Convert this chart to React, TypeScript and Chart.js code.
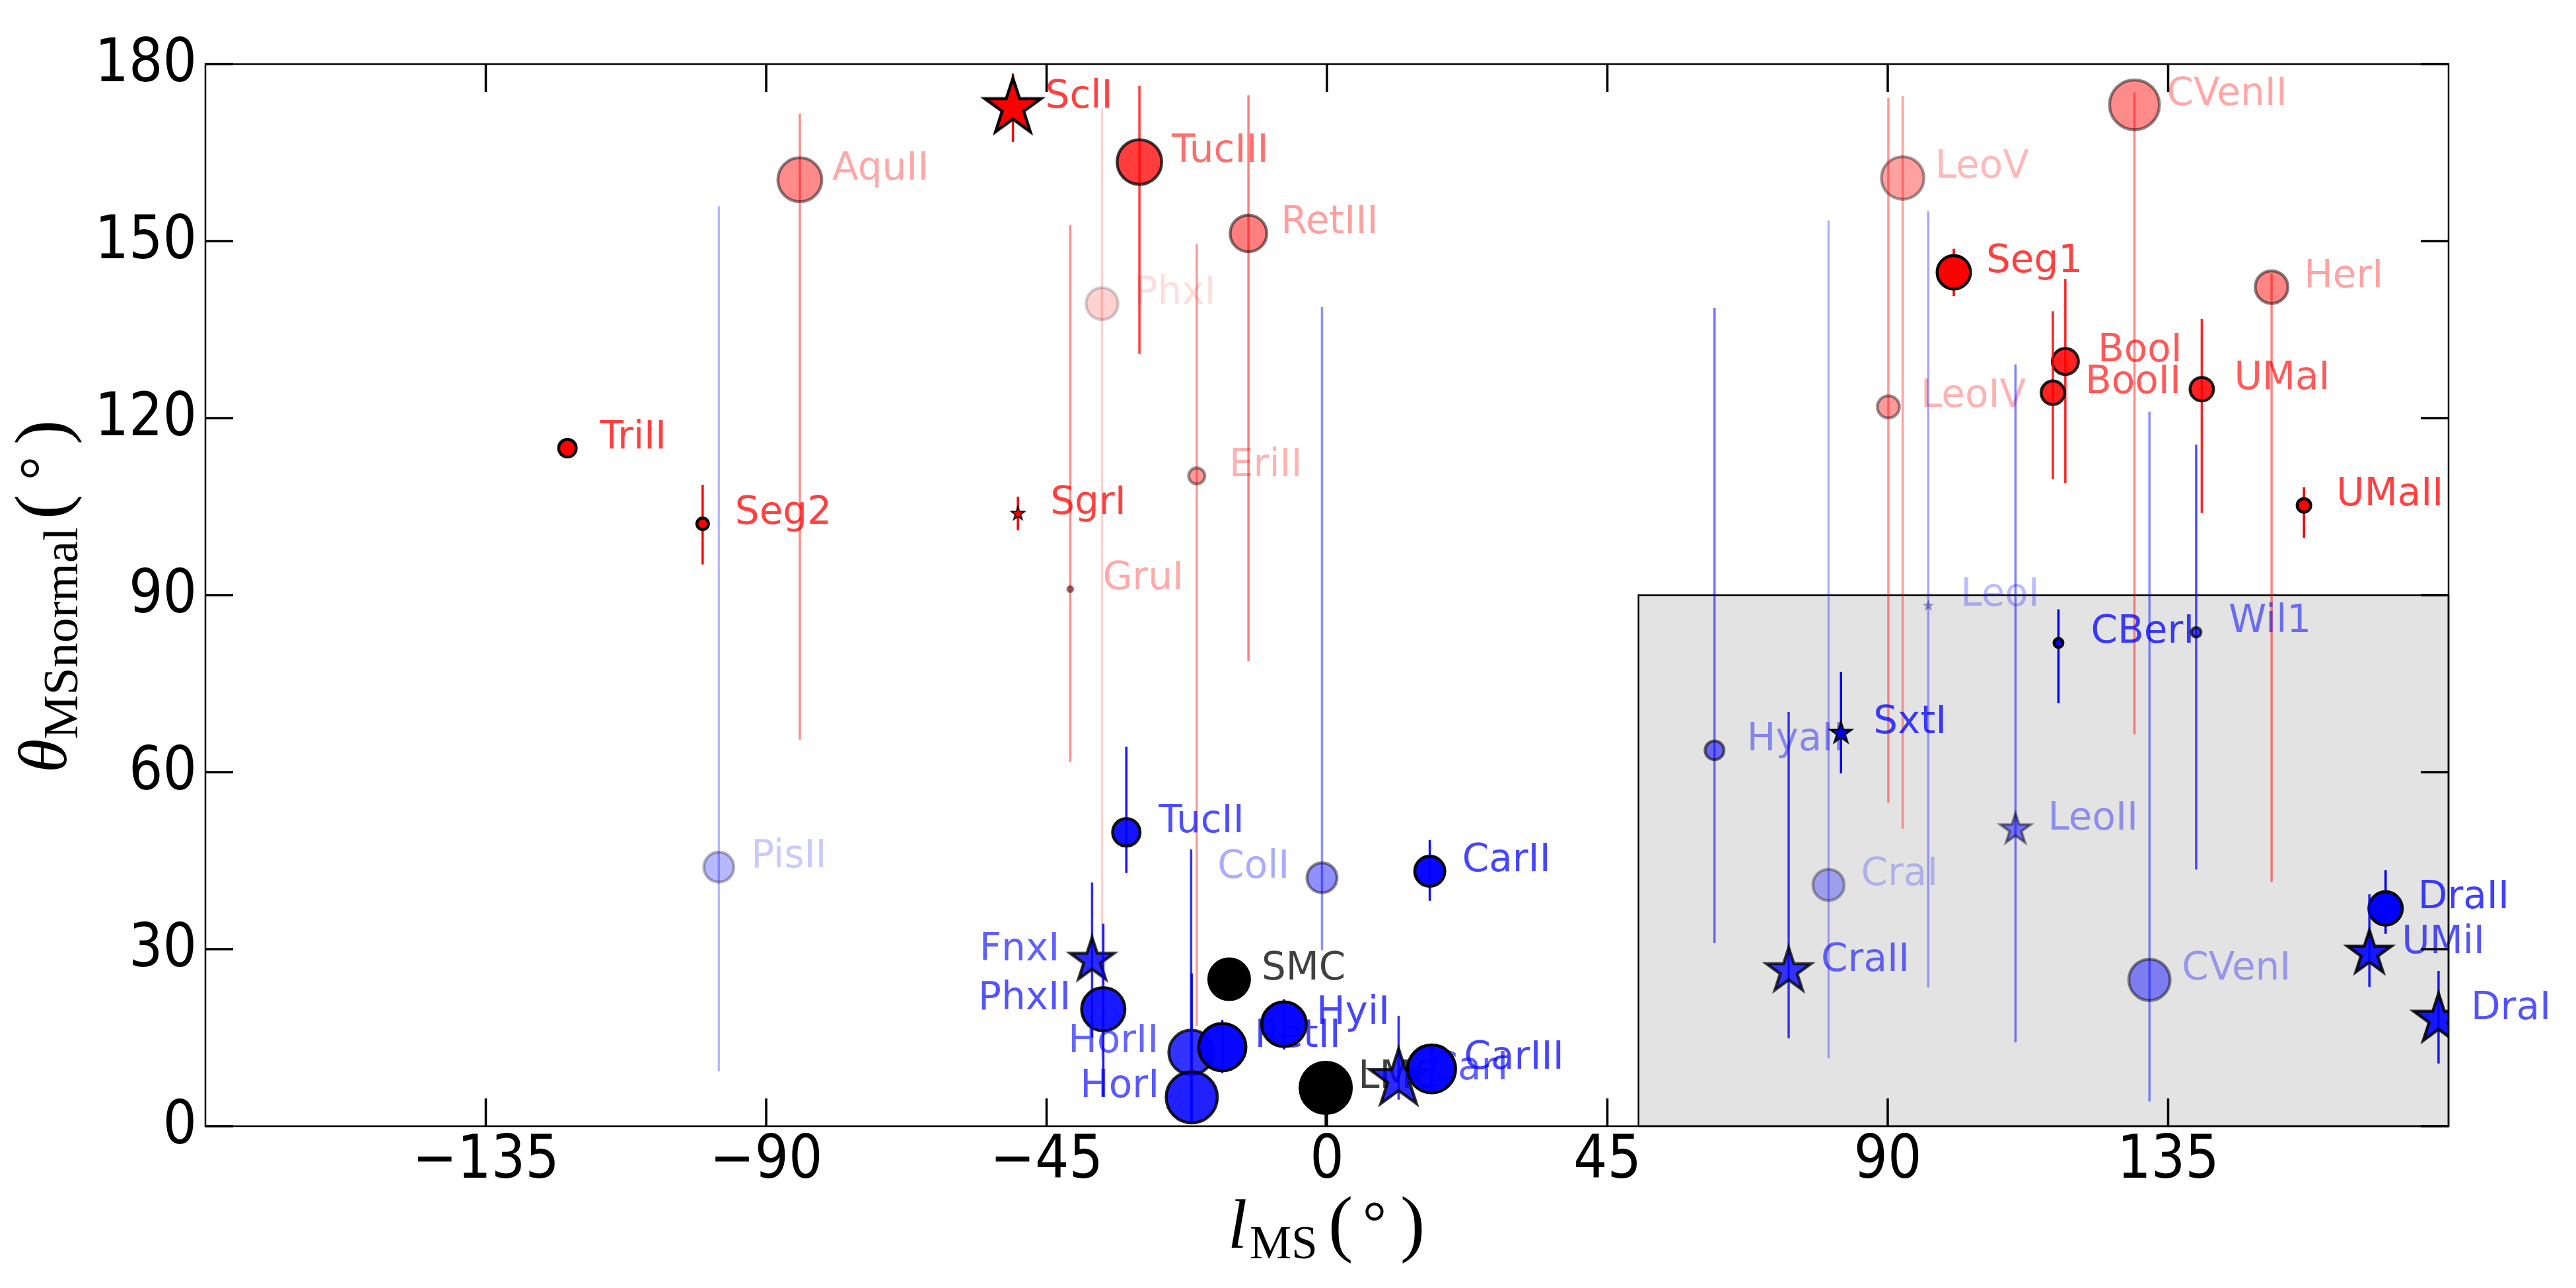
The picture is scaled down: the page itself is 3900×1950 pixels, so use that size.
import { useEffect, useRef } from 'react';
import { Chart, registerables } from 'chart.js';

Chart.register(...registerables);

// Satellites in drawing order (later entries are painted on top of earlier ones)
const GALAXIES = [
  'AquII', 'PhxI', 'GruI', 'EriII', 'RetIII', 'TucIII', 'SclI', 'TriII', 'Seg2', 'SgrI',
  'CVenII', 'LeoV', 'LeoIV', 'HerI', 'Seg1', 'BooI', 'BooII', 'UMaI', 'UMaII',
  'PisII', 'ColI', 'TucII', 'CarII', 'FnxI', 'PhxII', 'HorII', 'HorI', 'SMC', 'RetII', 'HyiI',
  'LMC', 'CarI', 'CarIII', 'HyaII', 'CraI', 'SxtI', 'CraII', 'LeoI', 'LeoII', 'CBerI', 'Wil1',
  'CVenI', 'DraII', 'UMiI', 'DraI',
];

// Magellanic Stream longitude l_MS (deg)
const L_MS = [
  -84.6, -36.1, -41.2, -20.9, -12.6, -30.1, -50.4, -121.9, -100.2, -49.6,
  129.6, 92.4, 90.1, 151.6, 100.6, 118.5, 116.5, 140.4, 156.8,
  -97.6, -0.8, -32.2, 16.5, -37.7, -35.9, -21.8, -21.7, -15.7, -16.8, -6.9,
  -0.2, 11.5, 16.8, 62.2, 80.5, 82.5, 74.1, 96.5, 110.5, 117.4, 139.5,
  132.0, 169.9, 167.3, 178.4,
];

// Angle between orbital pole and the MS normal (deg)
const THETA = [
  160.4, 139.4, 91.0, 110.2, 151.3, 163.4, 172.6, 114.9, 102.1, 103.8,
  173.1, 160.7, 121.9, 142.2, 144.7, 129.6, 124.3, 124.9, 105.2,
  43.9, 42.1, 49.8, 43.2, 28.1, 19.8, 12.5, 4.9, 24.9, 13.4, 17.3,
  6.5, 8.0, 9.7, 63.7, 40.9, 66.6, 26.3, 88.2, 50.3, 81.9, 83.7,
  24.8, 36.9, 29.3, 18.1,
];

// Lower and upper ends of the uncertainty interval on theta (deg)
const THETA_LOW = [
  65.5, 11.7, 61.7, 17.0, 78.8, 130.9, 166.8, 114.0, 95.2, 101.0,
  66.4, 50.4, 54.8, 41.4, 140.7, 109.0, 109.7, 103.9, 99.7,
  9.3, 29.8, 42.9, 38.2, 15.0, 5.0, 0.9, 0.5, 23.2, 9.0, 13.0,
  0.0, 4.5, 5.8, 31.0, 11.5, 59.8, 14.9, 23.5, 14.2, 71.7, 43.5,
  4.2, 32.6, 23.6, 10.6,
];
const THETA_HIGH = [
  171.6, 172.5, 152.7, 149.5, 174.7, 176.3, 178.4, 115.8, 108.7, 106.7,
  175.2, 174.6, 174.3, 144.5, 148.7, 143.6, 138.1, 136.8, 108.3,
  155.9, 138.8, 64.3, 48.5, 41.3, 34.3, 46.9, 25.9, 28.2, 18.0, 21.5,
  8.0, 18.7, 13.7, 138.7, 153.5, 77.0, 70.2, 155.1, 129.1, 87.6, 115.5,
  121.1, 43.4, 39.3, 26.3,
];

// r = red group, b = blue group, k = Magellanic Clouds
const GROUP = [
  'r', 'r', 'r', 'r', 'r', 'r', 'r', 'r', 'r', 'r',
  'r', 'r', 'r', 'r', 'r', 'r', 'r', 'r', 'r',
  'b', 'b', 'b', 'b', 'b', 'b', 'b', 'b', 'k', 'b', 'b',
  'k', 'b', 'b', 'b', 'b', 'b', 'b', 'b', 'b', 'b', 'b',
  'b', 'b', 'b', 'b',
];

// o = ultra-faint / other, * = classical dwarf
const MARKER = [
  'o', 'o', 'o', 'o', 'o', 'o', '*', 'o', 'o', '*',
  'o', 'o', 'o', 'o', 'o', 'o', 'o', 'o', 'o',
  'o', 'o', 'o', 'o', '*', 'o', 'o', 'o', 'o', 'o', 'o',
  'o', '*', 'o', 'o', 'o', '*', '*', '*', '*', 'o', 'o',
  'o', 'o', '*', '*',
];

// Marker extent (px)
const MARKER_SIZE = [
  71, 53, 12, 29, 60, 72, 95, 31, 22, 24,
  80, 69, 38, 54, 55, 44, 40, 40, 25,
  50, 50, 46, 50, 75, 70, 72, 82, 66, 76, 72,
  82, 97, 77, 33, 52, 37, 76, 16, 53, 18, 19,
  67, 55, 75, 84,
];

// Marker opacity
const OPACITY = [
  0.46, 0.18, 0.45, 0.4, 0.5, 0.76, 1, 1, 1, 1,
  0.46, 0.37, 0.4, 0.48, 1, 0.87, 0.87, 0.87, 1,
  0.28, 0.44, 0.92, 0.97, 0.83, 0.9, 0.8, 0.87, 1, 0.97, 0.97,
  1, 0.83, 0.97, 0.55, 0.3, 1, 0.78, 0.35, 0.5, 1, 0.7,
  0.45, 1, 0.9, 0.9,
];

// Names written to the left of their marker
const LABEL_LEFT = ['FnxI', 'PhxII', 'HorII', 'HorI', 'ColI'];

const X_TICKS = [-135, -90, -45, 0, 45, 90, 135];
const Y_TICKS = [0, 30, 60, 90, 120, 150, 180];
const X_MIN = -180;
const X_MAX = 180;
const Y_MIN = 0;
const Y_MAX = 180;

// Shaded region: l_MS > 50 and theta < 90
const SHADE_L_MIN = 50;
const SHADE_THETA_MAX = 90;

const LABEL_OFFSET = 5.2;
const EDGE = 4.5;

const rgba = (g: string, a: number) => {
  const c = g === 'r' ? [255, 0, 0] : g === 'b' ? [0, 0, 255] : [0, 0, 0];
  return `rgba(${c[0]},${c[1]},${c[2]},${a})`;
};

function starCanvas(diam: number, fill: string, edge: string, lw: number) {
  const R = diam / 2 - lw * 0.6;
  const size = Math.ceil(diam + lw * 4 + 6);
  const c = document.createElement('canvas');
  c.width = size;
  c.height = size;
  const ctx = c.getContext('2d')!;
  const cx = size / 2;
  const cy = size / 2;
  ctx.beginPath();
  for (let i = 0; i < 10; i++) {
    const r = i % 2 === 0 ? R : R * 0.381966;
    const ang = -Math.PI / 2 + (i * Math.PI) / 5;
    const px = cx + r * Math.cos(ang);
    const py = cy + r * Math.sin(ang);
    if (i === 0) ctx.moveTo(px, py);
    else ctx.lineTo(px, py);
  }
  ctx.closePath();
  ctx.fillStyle = fill;
  ctx.fill();
  ctx.lineJoin = 'miter';
  ctx.miterLimit = 10;
  ctx.lineWidth = lw;
  ctx.strokeStyle = edge;
  ctx.stroke();
  return c;
}

function drawScaledText(ctx: CanvasRenderingContext2D, text: string, x: number, y: number, sx: number) {
  ctx.save();
  ctx.translate(x, y);
  ctx.scale(sx, 1);
  ctx.fillText(text, 0, 0);
  ctx.restore();
}

const backgroundPlugin = {
  id: 'whiteBackground',
  beforeDraw(chart: any) {
    const { ctx, width, height } = chart;
    ctx.save();
    ctx.fillStyle = '#ffffff';
    ctx.fillRect(0, 0, width, height);
    ctx.restore();
  },
};

const shadePlugin = {
  id: 'shadedRegion',
  beforeDatasetsDraw(chart: any) {
    const { ctx } = chart;
    const xs = chart.scales.x;
    const ys = chart.scales.y;
    const x1 = xs.getPixelForValue(SHADE_L_MIN);
    const x2 = xs.getPixelForValue(X_MAX);
    const y1 = ys.getPixelForValue(SHADE_THETA_MAX);
    const y2 = ys.getPixelForValue(Y_MIN);
    ctx.save();
    ctx.fillStyle = '#e3e3e3';
    ctx.fillRect(x1, y1, x2 - x1, y2 - y1);
    ctx.lineWidth = 2.5;
    ctx.strokeStyle = '#000000';
    ctx.strokeRect(x1, y1, x2 - x1, y2 - y1);
    ctx.restore();
  },
};

const labelPlugin = {
  id: 'galaxyLabels',
  afterDatasetDraw(chart: any, args: any) {
    if (args.index % 2 !== 1) return;
    const k = (args.index - 1) / 2;
    const name = GALAXIES[k];
    const left = LABEL_LEFT.includes(name);
    const xs = chart.scales.x;
    const ys = chart.scales.y;
    const px = xs.getPixelForValue(L_MS[k] + (left ? -LABEL_OFFSET : LABEL_OFFSET));
    const py = ys.getPixelForValue(THETA[k]);
    const ctx = chart.ctx;
    ctx.save();
    ctx.font = '58px "DejaVu Sans"';
    ctx.fillStyle = rgba(GROUP[k], OPACITY[k] * 0.75);
    ctx.textAlign = left ? 'right' : 'left';
    ctx.textBaseline = 'alphabetic';
    ctx.fillText(name, px, py);
    ctx.restore();
  },
};

const framePlugin = {
  id: 'axesFrame',
  afterDatasetsDraw(chart: any) {
    const { ctx, chartArea } = chart;
    const { left, right, top, bottom } = chartArea;
    const xs = chart.scales.x;
    const ys = chart.scales.y;
    ctx.save();
    // spines
    ctx.strokeStyle = '#000000';
    ctx.lineWidth = 2.5;
    ctx.strokeRect(left, top, right - left, bottom - top);
    // inward ticks on all four sides
    const TL = 42;
    ctx.lineWidth = 3.5;
    ctx.beginPath();
    X_TICKS.forEach((v) => {
      const x = xs.getPixelForValue(v);
      ctx.moveTo(x, bottom);
      ctx.lineTo(x, bottom - TL);
      ctx.moveTo(x, top);
      ctx.lineTo(x, top + TL);
    });
    Y_TICKS.forEach((v) => {
      const y = ys.getPixelForValue(v);
      ctx.moveTo(left, y);
      ctx.lineTo(left + TL, y);
      ctx.moveTo(right, y);
      ctx.lineTo(right - TL, y);
    });
    ctx.stroke();

    // tick labels
    ctx.fillStyle = '#000000';
    ctx.font = '90px "DejaVu Sans"';
    ctx.textBaseline = 'alphabetic';
    X_TICKS.forEach((v) => {
      const text = v < 0 ? '\u2212' + Math.abs(v) : String(v);
      const w = ctx.measureText(text).width * 0.9;
      drawScaledText(ctx, text, xs.getPixelForValue(v) - w / 2, bottom + 78, 0.9);
    });
    Y_TICKS.forEach((v) => {
      const text = String(v);
      const w = ctx.measureText(text).width * 0.9;
      drawScaledText(ctx, text, left - 13 - w, ys.getPixelForValue(v) + 26, 0.9);
    });
    ctx.restore();
  },
  afterDraw(chart: any) {
    const { ctx, chartArea } = chart;
    const { left, right, top, bottom } = chartArea;
    const cx = (left + right) / 2;
    const cy = (top + bottom) / 2;
    ctx.save();
    ctx.fillStyle = '#000000';
    ctx.textBaseline = 'alphabetic';
    ctx.textAlign = 'left';

    // x title: l_MS(°)
    const xs0 = cx - 146;
    const xb = bottom + 184;
    ctx.font = 'italic 105px "Liberation Serif"';
    ctx.fillText('l', xs0 - 4, xb);
    ctx.font = '71px "Liberation Serif"';
    ctx.fillText('MS', xs0 + 29, xb + 16);
    ctx.font = '112px "Liberation Serif"';
    ctx.fillText('(', xs0 + 148, xb);
    ctx.font = '90px "Liberation Serif"';
    ctx.fillText('\u00b0', xs0 + 200, xb - 8);
    ctx.font = '112px "Liberation Serif"';
    ctx.fillText(')', xs0 + 257, xb);

    // y title: theta_MSnormal(°), rotated
    ctx.translate(100, cy + 267);
    ctx.rotate(-Math.PI / 2);
    ctx.font = 'italic 104px "Liberation Serif"';
    ctx.fillText('\u03b8', -2, 0);
    ctx.font = '75px "Liberation Serif"';
    ctx.fillText('MSnormal', 49, 17);
    ctx.font = '112px "Liberation Serif"';
    ctx.fillText('(', 382, 0);
    ctx.font = '90px "Liberation Serif"';
    ctx.fillText('\u00b0', 441, -8);
    ctx.font = '112px "Liberation Serif"';
    ctx.fillText(')', 495, 0);
    ctx.restore();
  },
};

export default function App() {
  const canvasRef = useRef<HTMLCanvasElement | null>(null);

  useEffect(() => {
    document.body.style.margin = '0';
    document.body.style.overflow = 'hidden';
    const canvas = canvasRef.current;
    if (!canvas) return;

    const N = GALAXIES.length;
    const datasets: any[] = [];
    GALAXIES.forEach((name, k) => {
      const a = OPACITY[k];
      const g = GROUP[k];
      datasets.push({
        type: 'line',
        label: name + ' error',
        data: [
          { x: L_MS[k], y: THETA_LOW[k] },
          { x: L_MS[k], y: THETA_HIGH[k] },
        ],
        borderColor: rgba(g, a),
        borderWidth: 3.5,
        borderCapStyle: 'butt',
        pointRadius: 0,
        pointHoverRadius: 0,
        fill: false,
        tension: 0,
        clip: 0,
        order: 2 * (N - k) + 1,
      });
      const isStar = MARKER[k] === '*';
      const size = MARKER_SIZE[k];
      const starEdge = Math.min(EDGE, size * 0.07);
      datasets.push({
        type: 'scatter',
        label: name,
        data: [{ x: L_MS[k], y: THETA[k] }],
        pointStyle: isStar ? starCanvas(size, rgba(g, a), rgba('k', a), starEdge) : 'circle',
        pointRadius: isStar ? size / 2 : size / 2 - EDGE / 2,
        pointHoverRadius: isStar ? size / 2 : size / 2 - EDGE / 2,
        pointBackgroundColor: rgba(g, a),
        pointBorderColor: rgba('k', a),
        pointBorderWidth: isStar ? 0 : EDGE,
        showLine: false,
        clip: 0,
        order: 2 * (N - k),
      });
    });

    const chart = new Chart(canvas, {
      type: 'scatter',
      data: { datasets },
      options: {
        responsive: false,
        animation: false,
        events: [],
        layout: { padding: { left: 311, top: 97, right: 193, bottom: 245 } },
        plugins: {
          legend: { display: false },
          tooltip: { enabled: false },
        },
        scales: {
          x: { type: 'linear', min: X_MIN, max: X_MAX, display: false },
          y: { type: 'linear', min: Y_MIN, max: Y_MAX, display: false },
        },
      },
      plugins: [backgroundPlugin, shadePlugin, labelPlugin, framePlugin],
    } as any);

    return () => chart.destroy();
  }, []);

  return (
    <div style={{ position: 'absolute', left: 0, top: 0, width: 3900, height: 1950, background: '#ffffff' }}>
      <canvas ref={canvasRef} width={3900} height={1950} style={{ display: 'block' }} />
    </div>
  );
}
